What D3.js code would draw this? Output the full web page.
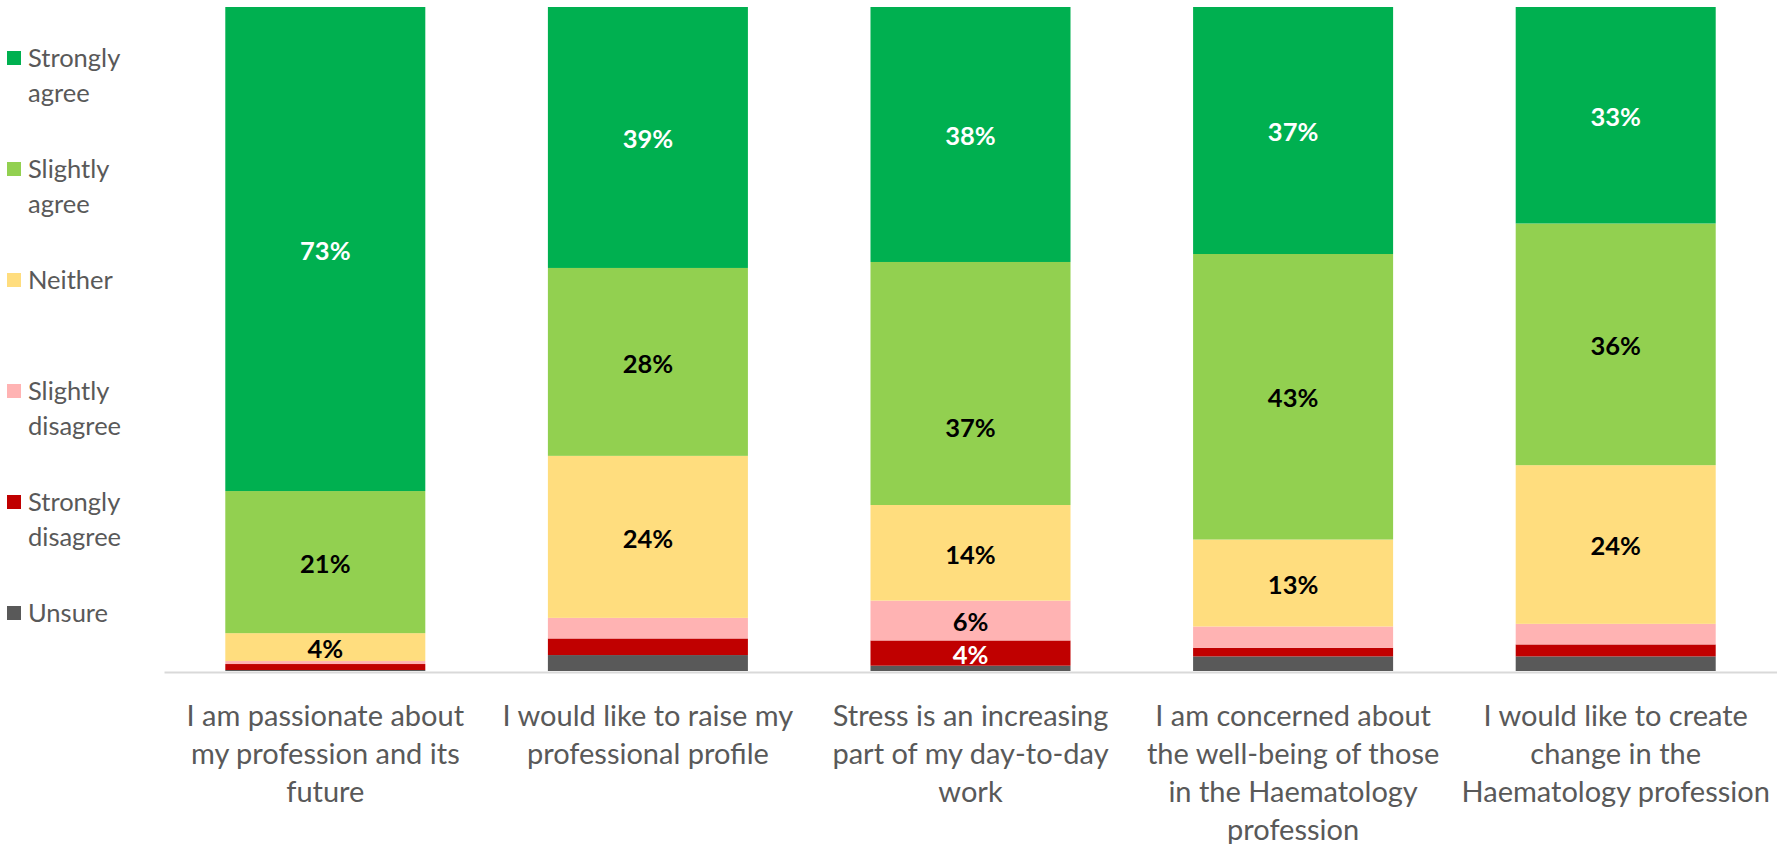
<!DOCTYPE html>
<html>
<head>
<meta charset="utf-8">
<script src="https://cdn.jsdelivr.net/npm/d3@7"></script>
<style>
  html, body { margin: 0; padding: 0; background: #fff; }
  svg { display: block; }
  text { font-family: Lato, "Open Sans", sans-serif; }
</style>
</head>
<body>
<svg id="chart" width="1777" height="844"></svg>
<script>
// Survey statements (x axis), split into the lines they are printed on
const categories = [
  "I am passionate about my profession and its future",
  "I would like to raise my professional profile",
  "Stress is an increasing part of my day-to-day work",
  "I am concerned about the well-being of those in the Haematology profession",
  "I would like to create change in the Haematology profession"
];
const categoryLines = [
  ["I am passionate about", "my profession and its", "future"],
  ["I would like to raise my", "professional profile"],
  ["Stress is an increasing", "part of my day-to-day", "work"],
  ["I am concerned about", "the well-being of those", "in the Haematology", "profession"],
  ["I would like to create", "change in the", "Haematology profession"]
];

// Response options, stacked from the baseline upwards
const responses = ["Unsure", "Strongly disagree", "Slightly disagree", "Neither", "Slightly agree", "Strongly agree"];

// Share of respondents (%) per statement, one array per response
const unsure           = [0.15, 2.4, 0.8, 2.2, 2.2];
const stronglyDisagree = [0.9, 2.5, 3.8, 1.3, 1.8];
const slightlyDisagree = [0.45, 3.1, 6.0, 3.2, 3.1];
const neither          = [4.2, 24.4, 14.4, 13.1, 23.9];
const slightlyAgree    = [21.4, 28.3, 36.6, 43.0, 36.4];
const stronglyAgree    = [72.9, 39.3, 38.4, 37.2, 32.6];

// Legend entries, top to bottom
const legendItems = ["Strongly agree", "Slightly agree", "Neither", "Slightly disagree", "Strongly disagree", "Unsure"];
const legendLines = {
  "Strongly agree": ["Strongly", "agree"],
  "Slightly agree": ["Slightly", "agree"],
  "Neither": ["Neither"],
  "Slightly disagree": ["Slightly", "disagree"],
  "Strongly disagree": ["Strongly", "disagree"],
  "Unsure": ["Unsure"]
};

const seriesValues = {
  "Unsure": unsure,
  "Strongly disagree": stronglyDisagree,
  "Slightly disagree": slightlyDisagree,
  "Neither": neither,
  "Slightly agree": slightlyAgree,
  "Strongly agree": stronglyAgree
};

const colors = {
  "Strongly agree": "#00B050",
  "Slightly agree": "#92D050",
  "Neither": "#FFDD7E",
  "Slightly disagree": "#FFB3B3",
  "Strongly disagree": "#C00000",
  "Unsure": "#595959"
};
const labelColors = {
  "Strongly agree": "#ffffff",
  "Strongly disagree": "#ffffff"
};
const minLabelShare = 3.5; // segments below this share carry no label

// Labels moved away from their segment centre (statement index | response -> px down)
const labelShift = { "2|Slightly agree": 43 };

// Rows for d3.stack
const rows = categories.map((c, i) => {
  const r = { category: c, index: i };
  responses.forEach(k => { r[k] = seriesValues[k][i]; });
  return r;
});

const svg = d3.select("#chart");
const plot = { left: 164, right: 1777, top: 7, bottom: 671 };

const x = d3.scaleBand()
  .domain(categories)
  .range([plot.left, plot.right])
  .paddingInner(0.38)
  .paddingOuter(0.19);

const y = d3.scaleLinear().domain([0, 1]).range([plot.bottom, plot.top]);

const stack = d3.stack().keys(responses).offset(d3.stackOffsetExpand);
const stacked = stack(rows);

// Stacked segments
const layers = svg.append("g").selectAll("g")
  .data(stacked)
  .join("g")
  .attr("fill", d => colors[d.key]);

layers.selectAll("rect")
  .data(d => d)
  .join("rect")
  .attr("x", d => x(d.data.category))
  .attr("width", x.bandwidth())
  .attr("y", d => y(d[1]))
  .attr("height", d => y(d[0]) - y(d[1]));

// Category axis
const xAxis = d3.axisBottom(x).tickSize(0).tickFormat("");
const axisG = svg.append("g")
  .attr("transform", `translate(0,${plot.bottom + 1})`)
  .call(xAxis);
axisG.select(".domain").attr("stroke", "#D9D9D9").attr("stroke-width", 2);

// Multi-line category labels
axisG.selectAll(".tick").each(function (c) {
  const lines = categoryLines[categories.indexOf(c)];
  const t = d3.select(this).append("text")
    .attr("text-anchor", "middle")
    .attr("fill", "#595959")
    .style("font-size", "29px");
  lines.forEach((ln, i) => {
    t.append("tspan").attr("x", 0).attr("y", 54 + i * 38).text(ln);
  });
});

// Value labels in the segment centres
const fmt = v => d3.format(".0f")(v) + "%";
svg.append("g").selectAll("text")
  .data(stacked.flatMap(layer => layer.map(p => ({ key: layer.key, p }))))
  .join("text")
  .filter(d => d.p.data[d.key] >= minLabelShare)
  .attr("x", d => x(d.p.data.category) + x.bandwidth() / 2)
  .attr("y", d => (y(d.p[0]) + y(d.p[1])) / 2 + (labelShift[d.p.data.index + "|" + d.key] || 0))
  .attr("dy", "0.42em")
  .attr("text-anchor", "middle")
  .attr("fill", d => labelColors[d.key] || "#000000")
  .style("font-size", "25.5px")
  .style("font-weight", "bold")
  .text(d => fmt(d.p.data[d.key]));

// Legend
const legendStep = 111;
const legend = svg.append("g").selectAll("g")
  .data(legendItems)
  .join("g")
  .attr("transform", (d, i) => `translate(0,${58 + i * legendStep})`);

legend.append("rect")
  .attr("x", 7).attr("y", -7)
  .attr("width", 14).attr("height", 14)
  .attr("fill", d => colors[d]);

legend.append("text")
  .attr("fill", "#595959")
  .style("font-size", "25.5px")
  .each(function (d) {
    const t = d3.select(this);
    legendLines[d].forEach((ln, i) => {
      t.append("tspan").attr("x", 28).attr("y", 9 + i * 34.5).text(ln);
    });
  });
</script>
</body>
</html>
